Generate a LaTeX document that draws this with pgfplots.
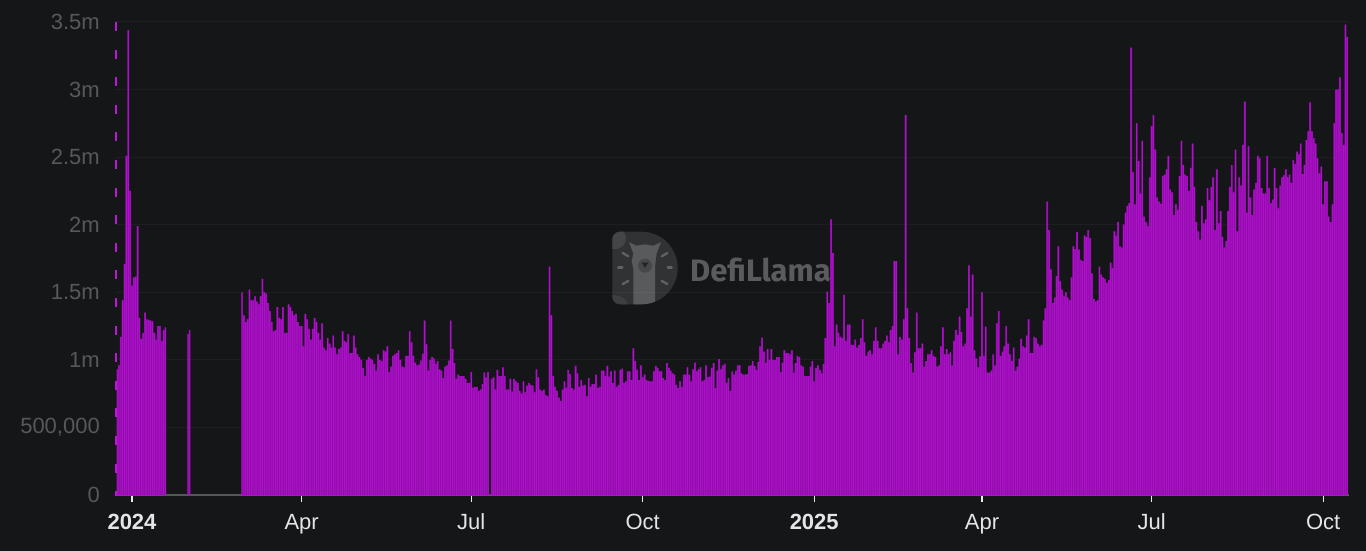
\documentclass[border=0pt]{standalone}
\usepackage{pgfplots}
\usepackage{pgfplotstable}
\pgfplotsset{compat=1.18}
\usepackage{fontspec}
\setmainfont{Liberation Sans}
\newfontfamily\wmfont{Fira Sans}
\definecolor{bgc}{HTML}{141618}
\definecolor{barc}{HTML}{AE11CA}
\definecolor{basefill}{HTML}{8C0CA4}
\definecolor{ylab}{HTML}{56585A}
\definecolor{basec}{HTML}{55575A}
\definecolor{dashc}{HTML}{BC16D8}
\definecolor{wmt}{HTML}{5A5B5D}
\pgfplotstableread[row sep=\\,header=false]{930\\960\\1170\\1440\\1710\\2510\\3440\\2250\\1550\\1610\\1615\\1990\\1310\\1155\\1200\\1350\\1300\\1295\\1290\\1285\\1200\\1150\\1250\\1250\\1140\\1220\\1240\\}\tA
\pgfplotstableread[row sep=\\,header=false]{1190\\1220\\}\tB
\pgfplotstableread[row sep=\\,header=false]{1500\\1330\\1280\\1300\\1520\\1440\\1440\\1470\\1430\\1410\\1470\\1600\\1500\\1490\\1420\\1360\\1280\\1210\\1220\\1390\\1310\\1300\\1390\\1200\\1200\\1410\\1390\\1360\\1330\\1340\\1280\\1250\\1250\\1100\\1340\\1300\\1230\\1150\\1230\\1310\\1280\\1200\\1150\\1270\\1090\\1070\\1160\\1120\\1090\\1180\\1090\\1040\\1080\\1090\\1210\\1140\\1130\\1190\\1050\\1050\\1180\\1090\\1040\\1020\\1000\\940\\880\\1000\\1020\\1010\\1000\\970\\920\\1040\\1000\\990\\1070\\1060\\1100\\910\\950\\1030\\1040\\1050\\1070\\1000\\950\\945\\1030\\1030\\1210\\1130\\1030\\980\\960\\965\\995\\1045\\1290\\1115\\920\\1000\\1020\\1010\\970\\990\\930\\920\\865\\950\\960\\995\\1290\\1080\\975\\860\\890\\880\\880\\880\\860\\830\\830\\910\\795\\800\\800\\770\\780\\820\\905\\870\\910\\0\\860\\870\\780\\925\\880\\880\\945\\880\\780\\780\\860\\765\\860\\840\\830\\770\\750\\840\\760\\810\\830\\815\\810\\760\\930\\870\\780\\770\\780\\740\\730\\1690\\1330\\880\\800\\770\\720\\695\\780\\840\\795\\925\\895\\790\\780\\955\\900\\800\\850\\810\\815\\730\\865\\800\\820\\820\\890\\790\\800\\920\\920\\880\\955\\875\\915\\830\\920\\800\\815\\925\\935\\830\\840\\915\\915\\850\\1085\\990\\925\\850\\960\\870\\890\\850\\845\\840\\840\\915\\955\\940\\915\\915\\865\\850\\975\\940\\920\\900\\890\\815\\790\\840\\800\\890\\890\\945\\890\\840\\930\\980\\915\\930\\945\\840\\850\\960\\870\\875\\940\\975\\790\\920\\1005\\930\\960\\970\\830\\865\\770\\915\\890\\920\\960\\960\\900\\890\\890\\895\\955\\960\\990\\955\\925\\985\\1100\\1165\\1060\\980\\1080\\1000\\1080\\1000\\1000\\1020\\1020\\910\\980\\1070\\1050\\1050\\1040\\1070\\905\\975\\1030\\1020\\960\\950\\880\\880\\880\\950\\990\\840\\940\\960\\925\\900\\970\\1160\\1505\\1420\\2040\\1790\\1100\\1260\\1200\\1170\\1160\\1480\\1140\\1260\\1260\\1110\\1110\\1150\\1090\\1110\\1160\\1300\\1130\\1030\\1060\\1070\\1040\\1140\\1240\\1140\\1085\\1085\\1120\\1140\\1180\\1130\\1220\\1250\\1730\\1730\\1040\\1170\\1150\\1300\\2810\\1380\\1160\\975\\905\\1055\\1350\\1085\\1085\\1120\\950\\990\\1040\\1040\\1070\\1030\\1020\\950\\960\\1100\\1240\\1040\\1080\\1040\\1055\\960\\1140\\1220\\1185\\1320\\1205\\1100\\1120\\1380\\1700\\1320\\1630\\1070\\1010\\945\\1025\\1500\\1030\\1245\\905\\905\\920\\1040\\960\\1270\\1360\\1030\\1060\\1100\\1250\\1120\\1040\\990\\1090\\920\\950\\1010\\1155\\1100\\1090\\1180\\1300\\1050\\1050\\1170\\1160\\1120\\1100\\1110\\1290\\1380\\2170\\1960\\1670\\1420\\1460\\1620\\1840\\1580\\1520\\1470\\1500\\1460\\1440\\1610\\1840\\1820\\1945\\1815\\1740\\1730\\1920\\1910\\1960\\1900\\1640\\1450\\1430\\1440\\1690\\1630\\1610\\1600\\1570\\1590\\1720\\1680\\1950\\1920\\2020\\1840\\1830\\2000\\2090\\2140\\2160\\3310\\2390\\2150\\2750\\2470\\2230\\2620\\2060\\2020\\1990\\2350\\2730\\2810\\2555\\2200\\2170\\2155\\2360\\2370\\2410\\2510\\2260\\2240\\2070\\2150\\2110\\2360\\2620\\2440\\2370\\2360\\2250\\2420\\2600\\2280\\2020\\1950\\1890\\2140\\2010\\2040\\2270\\2180\\2280\\2350\\1960\\2410\\2010\\2100\\1910\\1830\\1880\\2100\\2280\\2440\\2240\\2555\\1950\\2350\\2290\\2590\\2910\\2090\\2580\\2200\\2070\\2260\\2310\\2510\\2490\\2270\\2230\\2230\\2510\\2270\\2160\\2185\\2420\\2270\\2120\\2290\\2350\\2365\\2410\\2350\\2370\\2310\\2480\\2450\\2540\\2520\\2600\\2375\\2440\\2625\\2690\\2905\\2690\\2640\\2600\\2490\\2380\\2430\\2150\\2320\\2320\\2060\\2020\\2150\\2750\\3000\\3000\\3090\\2680\\2590\\3480\\3390\\}\tC
\newcommand\segplot[2]{%
  \addplot[const plot mark mid,fill=basefill,draw=none,no markers,forget plot] table[x expr=\coordindex+#2-8.0,y index=0]{#1} \closedcycle;
  \addplot[ybar,bar shift=0pt,bar width=1.0pt,fill=barc,draw=none,no markers,forget plot] table[x expr=\coordindex+#2-8.0,y index=0]{#1};
}
\begin{document}
\begin{tikzpicture}[x=1pt,y=1pt]
\useasboundingbox (0,0) rectangle (1366,551);
\fill[bgc] (0,0) rectangle (1366,551);
% watermark
\begin{scope}
\path[clip] (620,319.3) -- (641.4,319.3) arc (90:-90:36.3) -- (620,246.7) arc (270:180:7.7) -- (612.3,311.6) arc (180:90:7.7) -- cycle;
\fill[color=bgc!88!white] (600,240) rectangle (690,330);
\fill[color=bgc!80!white] (615,312.7) circle (11);
\fill[color=bgc!83!white] (612,246) ellipse (16 and 10);
\fill[color=bgc!71!white] (629,308.7) -- (636.7,305.3) -- (645,306.7) -- (653.3,305.3) -- (661,308.7) -- (656.7,297.7) -- (655.7,291) -- (655,282.7) -- (655,246.7) -- (633.3,246.7) -- (633.3,282.7) -- (631.7,289.3) -- (633.3,297.7) -- cycle;
\fill[color=bgc!79!white] (645,285.3) circle (7);
\fill[color=bgc!94!white] (641.7,288.3) -- (648.3,288.3) -- (645,283.3) -- cycle;
\foreach \a/\b/\c/\d in {622.7/298/628.3/294.7,618.3/283.3/622.3/283.3,622.7/267/628.3/270,667.3/298/661.7/294.7,671.7/283.3/667.7/283.3,667.3/267/661.7/270}{\draw[color=bgc!68!white,line width=2.4pt,line cap=round] (\a,\b) -- (\c,\d);}
\end{scope}
\node[anchor=west,inner sep=0pt,text=wmt] at (690,281) {\wmfont\bfseries\fontsize{31}{31}\selectfont DefiLlama};
\begin{axis}[
  at={(115pt,56pt)},anchor=south west,scale only axis,width=1234pt,height=473pt,
  xmin=-9.12,xmax=652.9,ymin=0,ymax=3500,
  axis x line*=bottom,axis y line*=left,
  x axis line style={color=basec,line width=1.6pt,-},
  y axis line style={draw=none,-},
  xtick={0,91,182,274,366,456,547,639},
  xticklabels={\textbf{2024},Apr,Jul,Oct,\textbf{2025},Apr,Jul,Oct},
  ytick={0,500,1000,1500,2000,2500,3000,3500},
  yticklabels={0,{500,000},1m,1.5m,2m,2.5m,3m,3.5m},
  xtick align=outside,ytick align=inside,
  major tick length=7pt,
  xtick style={color=white!92!black,line width=1.2pt},
  ytick style={draw=none},
  ymajorgrids,grid style={color=white,opacity=0.035,line width=1pt},
  xticklabel style={text=white!90!black,font=\fontsize{22}{22}\selectfont,inner sep=0pt,yshift=-11pt,text height=16pt,text depth=0pt},
  yticklabel style={text=ylab,font=\fontsize{22}{22}\selectfont,inner sep=0pt,xshift=-15pt},
  clip=false,
]
\segplot{\tA}{0}
\segplot{\tB}{38}
\segplot{\tC}{67}
\addplot[color=dashc,line width=2pt,dash pattern=on 9pt off 18.6pt,no markers] coordinates {(-8.8,3500)(-8.8,0)};
\end{axis}
\end{tikzpicture}
\end{document}
